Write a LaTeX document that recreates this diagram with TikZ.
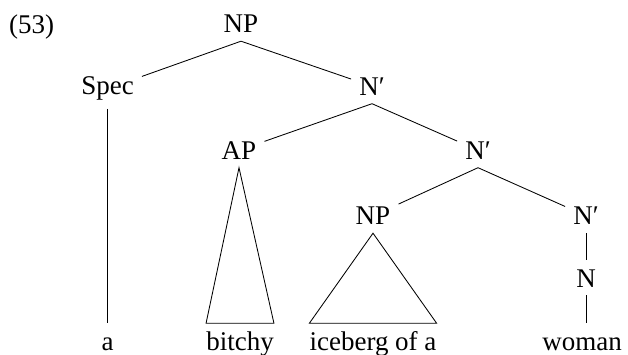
\documentclass[tikz,border=0pt]{standalone}
\usepackage{fontspec}
\setmainfont{Liberation Serif}
\begin{document}
\begin{tikzpicture}[x=1pt,y=-1pt,
  every node/.style={font=\fontsize{27}{31}\selectfont},
  cat/.style={anchor=base, inner sep=8pt, text height=18.5pt},
  word/.style={anchor=base, inner xsep=0pt, inner ysep=8pt, text height=18.5pt},
  branch/.style={draw, line width=0.85pt},
]
\useasboundingbox (0,0) rectangle (628,355);
\node[anchor=base west, inner sep=0pt] (ex) at (9,34) {(53)};
\node[cat] (np0) at (241,33) {NP};
\node[cat] (spec) at (107.5,95) {Spec};
\node[cat] (n1) at (372,95.5) {N′};
\node[cat] (ap) at (239,159.5) {AP};
\node[cat] (n2) at (478,159.5) {N′};
\node[cat] (np2) at (373,225) {NP};
\node[cat] (n3) at (586,225) {N′};
\node[cat] (n) at (586,287) {N};
\node[word] (a) at (107.5,350) {a};
\node[word] (bitchy) at (240,350) {bitchy};
\node[word] (ice) at (373,350) {iceberg of a};
\node[word] (woman) at (582,350) {woman};
\draw[branch] (np0.south) -- (spec);
\draw[branch] (np0.south) -- (n1);
\draw[branch] (n1.south) -- (ap);
\draw[branch] (n1.south) -- (n2);
\draw[branch] (n2.south) -- (np2);
\draw[branch] (n2.south) -- (n3);
\draw[branch] (spec.south) -- (spec.south |- a.north);
\draw[branch] (ap.south) -- (bitchy.north west) -- (bitchy.north east) -- cycle;
\draw[branch] (np2.south) -- (ice.north west) -- (ice.north east) -- cycle;
\draw[branch] (n3.south) -- (n.north);
\draw[branch] (n.south) -- (n.south |- woman.north);
\end{tikzpicture}
\end{document}
